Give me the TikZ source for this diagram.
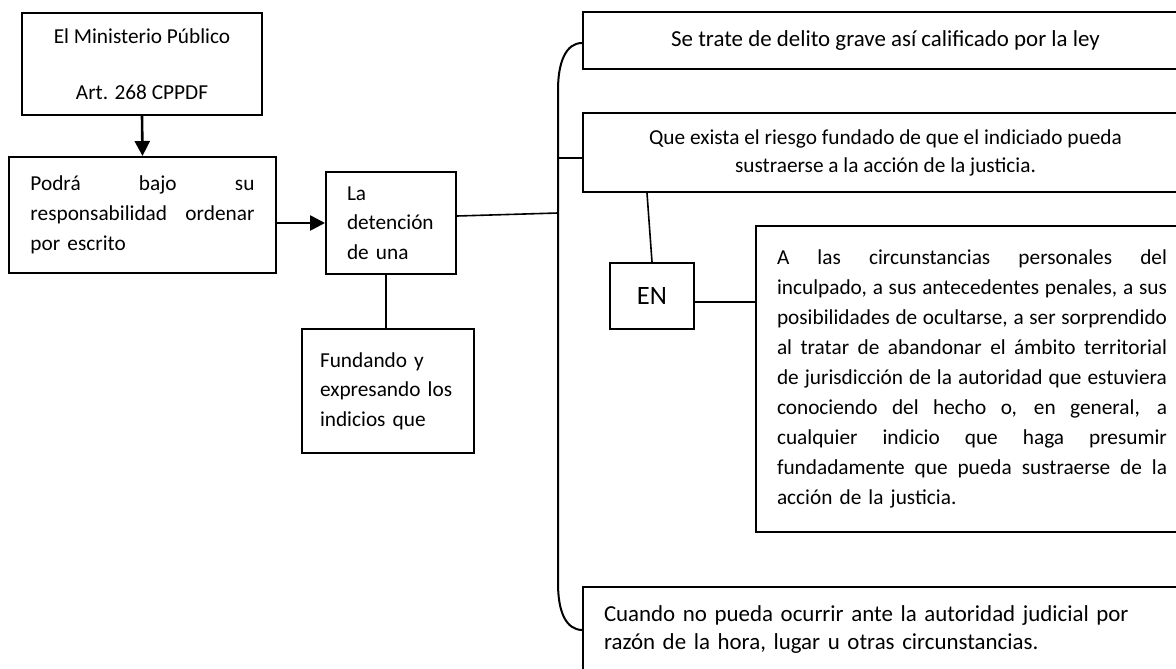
\documentclass[tikz,border=0pt]{standalone}
\usepackage{fontspec}
\setmainfont{Carlito}
\usetikzlibrary{calc,arrows.meta}
\newcommand\jl[2]{\leavevmode\hbox to #1{\spaceskip=\fontdimen2\font plus 1fil minus \fontdimen4\font\relax #2}}
\begin{document}
\begin{tikzpicture}[x=1pt,y=-1pt,
  box/.style={draw, line width=2pt, rectangle, inner sep=0pt},
  conn/.style={line width=1.6pt},
  arr/.style={line width=2.6pt, -{Triangle[length=15pt,width=15pt]}},
  fa/.style={font=\fontsize{21.3}{29.5}\selectfont},
  fb/.style={font=\fontsize{22.9}{28}\selectfont},
  fen/.style={font=\fontsize{26.5}{30}\selectfont},
]
\useasboundingbox (0,0) rectangle (1176,669);
\clip (0,0) rectangle (1176,669);

% left column
\node[box, minimum width=240pt, minimum height=101pt, align=center,
      font=\fontsize{21.3}{28}\selectfont] (b1) at (142,64)
  {El Ministerio Público\\[28pt]Art. 268 CPPDF};
\node[box, minimum width=267pt, minimum height=116pt, text width=224pt, align=left,
      font=\fontsize{21.3}{30}\selectfont] (b2) at (142.5,215)
  {\jl{224pt}{Podrá bajo su}\\\jl{224pt}{responsabilidad ordenar}\\por escrito};
\node[box, fa, minimum width=130pt, minimum height=102pt, text width=88pt, align=left] (b3) at (391,223)
  {La\\detención\\de una\par\vspace{-6pt}};
\node[box, fa, minimum width=172pt, minimum height=124pt, text width=136pt, align=left] (b4) at (388,391)
  {Fundando y\\expresando los\\indicios que\par\vspace{14pt}};

% right column
\node[box, fb, minimum width=605pt, minimum height=57pt, align=center] (se) at (885.5,40.5)
  {Se trate de delito grave así calificado por la ley};
\node[box, minimum width=605pt, minimum height=79pt, align=center,
      font=\fontsize{21.3}{28}\selectfont] (que) at (885.5,152.5)
  {Que exista el riesgo fundado de que el indiciado pueda\\sustraerse a la acción de la justicia.};
\node[box, fen, minimum width=84pt, minimum height=66pt] (en) at (652,296) {EN};
\node[box, minimum width=432pt, minimum height=306pt, text width=390pt, align=left,
      font=\fontsize{21.3}{30}\selectfont] (big) at (972,379)
  {\jl{390pt}{A las circunstancias personales del}\\
   \jl{390pt}{inculpado, a sus antecedentes penales, a sus}\\
   \jl{390pt}{posibilidades de ocultarse, a ser sorprendido}\\
   \jl{390pt}{al tratar de abandonar el ámbito territorial}\\
   \jl{390pt}{de jurisdicción de la autoridad que estuviera}\\
   \jl{390pt}{conociendo del hecho o, en general, a}\\
   \jl{390pt}{cualquier indicio que haga presumir}\\
   \jl{390pt}{fundadamente que pueda sustraerse de la}\\
   acción de la justicia.\par\vspace{24pt}};
\node[box, fb, minimum width=605pt, minimum height=86pt, text width=563pt, align=left] (cu) at (885.5,630)
  {Cuando no pueda ocurrir ante la autoridad judicial por\\razón de la hora, lugar u otras circunstancias.};

% brace
\coordinate (btop) at (558,90);
\coordinate (bbot) at (558,583);
\coordinate (bmid) at (558,213);
\coordinate (btick) at (558,158);
\draw[line width=2pt] ([yshift=-2.5pt]se.west) .. controls (566,43) and (558,62) .. (btop)
  -- (bbot) .. controls (558,612) and (566,629.5) .. (cu.west);
\draw[conn] (btick) -- (que.west |- btick);

% connectors
\draw[arr] (b1.south) -- (b2.north);
\draw[arr] (b2.east |- b3.west) -- (b3.west);
\draw[conn] ([yshift=7pt]b3.east) -- (bmid);
\draw[conn] ([xshift=-5pt]b3.south) -- ([xshift=-5pt]b3.south |- b4.north);
\draw[conn] ($(que.south west)+(65,0)$) -- (en.north);
\draw[conn] ([yshift=-6pt]en.east) -- ([yshift=-6pt]en.east -| big.west);
\end{tikzpicture}
\end{document}
